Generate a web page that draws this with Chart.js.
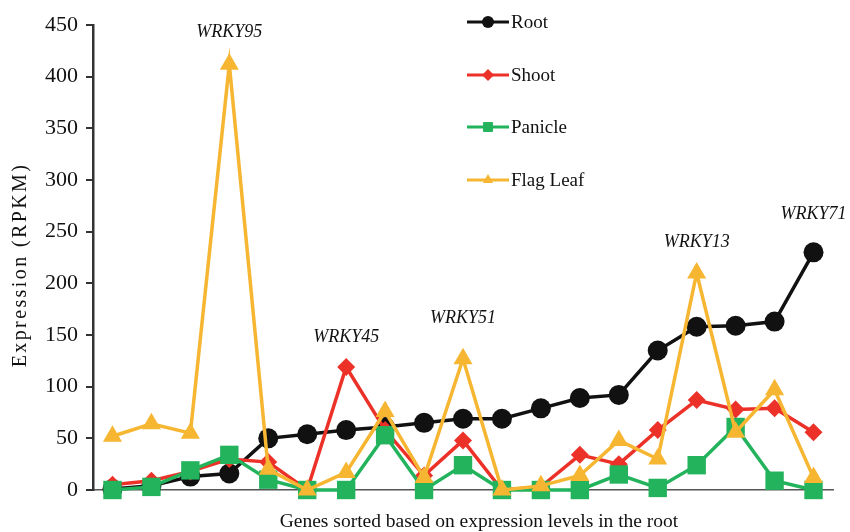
<!DOCTYPE html>
<html>
<head>
<meta charset="utf-8">
<script src="https://cdn.jsdelivr.net/npm/chart.js@4.4.1/dist/chart.umd.min.js"></script>
<style>
  html, body { margin: 0; padding: 0; background: #fff; }
  #wrap { width: 850px; height: 532px; }
</style>
</head>
<body>
<div id="wrap"><canvas id="myChart" width="850" height="532"></canvas></div>
<script>
// genes sorted by root expression (19 genes)
const genes = ['g1','g2','g3','g4','g5','g6','g7','g8','g9','g10','g11','g12','g13','g14','g15','g16','g17','g18','g19'];
const root     = [1, 4, 13, 16, 50, 54, 58, 61, 65, 69, 69, 79, 89, 92, 135, 158, 159, 163, 230];
const shoot    = [5, 9, 18, 30, 27, 0, 119, 58, 14, 48, 0, 3, 34, 25, 58, 87, 78, 79, 56];
const panicle  = [0, 3, 19, 34, 10, 0, 0, 53, 0, 24, 0, 0, 0, 15, 2, 24, 61, 9, 0];
const flagLeaf = [52, 64, 55, 412, 20, 0, 17, 76, 12, 127, 0, 4, 14, 48, 30, 210, 56, 97, 12];
const yTicks = [0, 50, 100, 150, 200, 250, 300, 350, 400, 450];

// gene labels: name, category index, value where the label sits
const labelNames = ['WRKY95', 'WRKY45', 'WRKY51', 'WRKY13', 'WRKY71'];
const labelIndex = [3, 6, 9, 15, 18];
const labelValue = [443, 148, 166, 240, 267];

const serif = "'Liberation Serif', 'DejaVu Serif', serif";

const seriesNames = ['Root', 'Shoot', 'Panicle', 'Flag Leaf'];
const seriesColors = ['#111111', '#ec3228', '#22b35c', '#f6b632'];
const seriesShapes = ['circle', 'rectRot', 'rect', 'triangle'];
const seriesRadius = [10, 9, 13, 11];

function makeSet(i, values) {
    return {
        label: seriesNames[i],
        data: values,
        borderColor: seriesColors[i],
        backgroundColor: seriesColors[i],
        borderWidth: 3.5,
        pointStyle: seriesShapes[i],
        pointRadius: seriesRadius[i],
        pointBorderWidth: 0,
        order: 3 - i,
        tension: 0,
    };
}

const extras = {
    id: 'extras',
    afterDatasetsDraw(chart) {
        const ctx = chart.ctx;
        const x = chart.scales.x, y = chart.scales.y;
        ctx.save();
        ctx.fillStyle = '#111';
        ctx.textAlign = 'center';
        ctx.textBaseline = 'middle';
        // y axis title, letter spaced
        ctx.save();
        ctx.translate(21, 265);
        ctx.rotate(-Math.PI / 2);
        ctx.font = '20px ' + serif;
        ctx.letterSpacing = '2.4px';
        ctx.fillText('Expression (RPKM)', 0, 0);
        ctx.restore();
        // x axis title
        ctx.font = '19.5px ' + serif;
        ctx.fillText('Genes sorted based on expression levels in the root', 479, 522);
        // gene name labels
        ctx.font = 'italic 18px ' + serif;
        labelNames.forEach((n, i) => {
            ctx.fillText(n, x.getPixelForValue(labelIndex[i]), y.getPixelForValue(labelValue[i]));
        });
        // legend
        const lx = 467, lw = 42;
        const ly = [22, 75, 127, 180];
        ctx.font = '19px ' + serif;
        ctx.textAlign = 'left';
        seriesNames.forEach((n, i) => {
            ctx.strokeStyle = seriesColors[i];
            ctx.lineWidth = 3;
            ctx.beginPath();
            ctx.moveTo(lx, ly[i]);
            ctx.lineTo(lx + lw, ly[i]);
            ctx.stroke();
            ctx.fillStyle = seriesColors[i];
            Chart.helpers.drawPoint(ctx, {
                pointStyle: seriesShapes[i],
                radius: i === 2 ? 7 : 6,
                borderWidth: 0,
                rotation: 0
            }, lx + lw / 2, ly[i]);
            ctx.fillStyle = '#111';
            ctx.fillText(n, lx + lw + 2, ly[i] + 1);
        });
        ctx.restore();
    }
};

const config = {
    type: 'line',
    data: {
        labels: genes,
        datasets: [
            makeSet(0, root),
            makeSet(1, shoot),
            makeSet(2, panicle),
            makeSet(3, flagLeaf)
        ]
    },
    options: {
        responsive: false,
        animation: false,
        clip: false,
        layout: { padding: { top: 25, right: 17, left: 0, bottom: 0 } },
        plugins: {
            legend: { display: false },
            tooltip: { enabled: false }
        },
        scales: {
            x: {
                offset: true,
                grid: { display: false },
                border: { color: '#555', width: 1.5 },
                ticks: { display: false },
                afterFit(scale) { scale.height = 42; }
            },
            y: {
                min: 0,
                max: 450,
                afterBuildTicks(scale) { scale.ticks = yTicks.map(v => ({ value: v })); },
                grid: { drawOnChartArea: false, tickLength: 7, color: '#333', lineWidth: 2 },
                border: { color: '#333', width: 2.5 },
                ticks: {
                    font: { family: serif, size: 22 },
                    color: '#111',
                    padding: 8
                },
                afterFit(scale) { scale.width = 93; }
            }
        }
    },
    plugins: [extras]
};

new Chart(document.getElementById('myChart').getContext('2d'), config);
</script>
</body>
</html>
